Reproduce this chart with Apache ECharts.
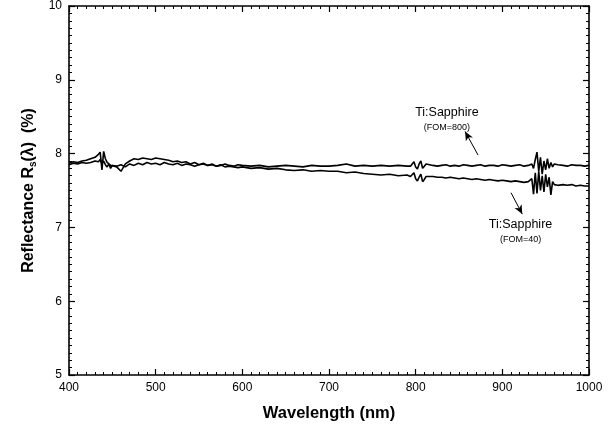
<!DOCTYPE html>
<html>
<head>
<meta charset="utf-8">
<script src="https://cdn.jsdelivr.net/npm/echarts@6/dist/echarts.min.js"></script>
<style>
  html, body { margin: 0; padding: 0; background: #fff; }
  #main { width: 608px; height: 427px; }
</style>
</head>
<body>
<div id="main"></div>
<script>
// wavelength samples (nm), finer where the traces are noisy
var wl = [400, 405, 410, 415, 420, 425, 430,
  432, 434, 436, 438, 440, 442, 444, 446, 448, 450,
  455, 460, 465, 470, 475, 480, 485, 490, 495, 500, 505, 510, 515, 520, 525, 530, 535, 540, 545, 550,
  555, 560, 565, 570, 575, 580, 585, 590, 595, 600,
  610, 620, 630, 640, 650, 660, 670, 680, 690, 700, 710, 720, 730, 740, 750, 760, 770, 780, 790,
  792, 794, 796, 798, 800, 802, 804, 806, 808, 810, 812, 814,
  820, 825, 830, 835, 840, 845, 850, 855, 860, 865, 870, 875, 880, 885, 890, 895, 900, 905, 910, 915, 920, 925, 930,
  932, 934, 936, 938, 940, 942, 944, 946, 948, 950, 952, 954, 956, 958, 960, 962, 964,
  970, 975, 980, 985, 990, 995, 1000];

// Ti:Sapphire (FOM=800)
var r800 = [7.87, 7.89, 7.88, 7.90, 7.91, 7.93, 7.95,
  7.97, 7.99, 8.02, 7.78, 8.03, 7.93, 7.88, 7.86, 7.84, 7.86,
  7.83, 7.85, 7.82, 7.86, 7.84, 7.87, 7.85, 7.88, 7.86, 7.87, 7.85, 7.88, 7.86, 7.85, 7.87, 7.84, 7.86, 7.85, 7.83, 7.85,
  7.86, 7.84, 7.85, 7.83, 7.84, 7.86, 7.84, 7.83, 7.85, 7.84,
  7.83, 7.84, 7.82, 7.83, 7.84, 7.83, 7.82, 7.84, 7.83, 7.83, 7.84, 7.86, 7.83, 7.84, 7.83, 7.84, 7.83, 7.84, 7.83,
  7.84, 7.83, 7.86, 7.89, 7.82, 7.79, 7.86, 7.90, 7.80, 7.83, 7.86, 7.84,
  7.84, 7.83, 7.84, 7.85, 7.83, 7.84, 7.83, 7.85, 7.84, 7.83, 7.84, 7.85, 7.83, 7.84, 7.84, 7.83, 7.85, 7.84, 7.83, 7.84, 7.85, 7.83, 7.84,
  7.84, 7.86, 7.80, 7.92, 8.02, 7.76, 7.95, 7.72, 7.90, 7.78, 7.93, 7.80, 7.88, 7.82, 7.86, 7.84, 7.85,
  7.84, 7.83, 7.85, 7.84, 7.84, 7.83, 7.84];

// Ti:Sapphire (FOM=40)
var r40 = [7.85, 7.87, 7.86, 7.88, 7.87, 7.88, 7.90,
  7.91, 7.89, 7.92, 7.86, 7.90, 7.85, 7.82, 7.86, 7.80, 7.84,
  7.82, 7.76, 7.86, 7.90, 7.93, 7.92, 7.94, 7.93, 7.92, 7.94, 7.93, 7.92, 7.91, 7.89, 7.90, 7.88, 7.89, 7.86, 7.88, 7.85,
  7.87, 7.84, 7.86, 7.83, 7.85, 7.82, 7.83, 7.82, 7.81, 7.82,
  7.80, 7.81, 7.79, 7.80, 7.78, 7.77, 7.78, 7.76, 7.77, 7.76, 7.76, 7.74, 7.75, 7.73, 7.72, 7.71, 7.72, 7.70, 7.71,
  7.70, 7.69, 7.71, 7.74, 7.66, 7.63, 7.68, 7.72, 7.62, 7.65, 7.69, 7.68,
  7.69, 7.68, 7.68, 7.67, 7.68, 7.67, 7.66, 7.67, 7.66, 7.65, 7.66, 7.65, 7.64, 7.65, 7.64, 7.63, 7.64, 7.63, 7.62, 7.63, 7.62, 7.61, 7.62,
  7.61, 7.66, 7.45, 7.74, 7.46, 7.76, 7.50, 7.70, 7.48, 7.72, 7.55, 7.68, 7.44, 7.62, 7.58, 7.60, 7.57,
  7.58, 7.57, 7.58, 7.56, 7.57, 7.56, 7.56];

var xTicks = [400, 500, 600, 700, 800, 900, 1000];
var yTicks = [5, 6, 7, 8, 9, 10];

function pairs(xs, ys) {
  var out = [];
  for (var i = 0; i < xs.length; i++) out.push([xs[i], ys[i]]);
  return out;
}

var FONT = '"Liberation Sans", Arial, sans-serif';
var myChart = echarts.init(document.getElementById('main'));

var tickStyle = { show: true, inside: true, length: 6, lineStyle: { color: '#000', width: 1.2 } };
var minorStyle = { show: true, splitNumber: 10, length: 3, lineStyle: { color: '#000', width: 1 } };
var lineAx = { show: true, onZero: false, lineStyle: { color: '#000', width: 1.6 } };

var option = {
  animation: false,
  backgroundColor: '#fff',
  grid: { left: 69, right: 19, top: 4, bottom: 52 },
  xAxis: [{
    type: 'value',
    min: xTicks[0], max: xTicks[xTicks.length - 1], interval: 100,
    axisLine: lineAx, axisTick: tickStyle, minorTick: minorStyle,
    splitLine: { show: false },
    axisLabel: { color: '#000', fontFamily: FONT, fontSize: 12, margin: 7,
      formatter: function (v) { return String(v); } },
    name: 'Wavelength (nm)', nameLocation: 'middle', nameGap: 30,
    nameTextStyle: { color: '#000', fontFamily: FONT, fontSize: 16.5, fontWeight: 'bold' }
  }, {
    type: 'value', position: 'top',
    min: xTicks[0], max: xTicks[xTicks.length - 1], interval: 100,
    axisLine: lineAx, axisTick: tickStyle, minorTick: minorStyle,
    splitLine: { show: false }, axisLabel: { show: false }
  }],
  yAxis: [{
    type: 'value',
    min: yTicks[0], max: yTicks[yTicks.length - 1], interval: 1,
    axisLine: lineAx, axisTick: tickStyle, minorTick: minorStyle,
    splitLine: { show: false },
    axisLabel: { color: '#000', fontFamily: FONT, fontSize: 12, margin: 7 },
    name: '{a|Reflectance R}{s|s}{a|(λ)  (%)}', nameLocation: 'middle', nameGap: 31, nameRotate: 90,
    nameTextStyle: {
      color: '#000', fontFamily: FONT, fontSize: 16, fontWeight: 'bold',
      rich: {
        a: { fontFamily: FONT, fontSize: 16, fontWeight: 'bold', color: '#000' },
        s: { fontFamily: FONT, fontSize: 10, fontWeight: 'bold', color: '#000', verticalAlign: 'bottom', padding: [9, 0, 0, 0] }
      }
    }
  }, {
    type: 'value', position: 'right',
    min: yTicks[0], max: yTicks[yTicks.length - 1], interval: 1,
    axisLine: lineAx, axisTick: tickStyle, minorTick: minorStyle,
    splitLine: { show: false }, axisLabel: { show: false }
  }],
  series: [{
    name: 'FOM=800',
    type: 'line',
    data: pairs(wl, r800),
    showSymbol: false,
    lineStyle: { color: '#000', width: 1.6 },
    markLine: {
      silent: true, symbol: ['arrow', 'none'], symbolSize: [6, 9],
      lineStyle: { color: '#000', width: 1, type: 'solid' },
      label: { show: false },
      data: [[{ coord: [857, 8.30] }, { coord: [872, 7.98] }]]
    },
    markPoint: {
      silent: true, symbolSize: 0,
      label: { show: true, color: '#000', fontFamily: FONT,
        formatter: '{t|Ti:Sapphire}\n{f|(FOM=800)}',
        rich: { t: { fontSize: 12.5, fontFamily: FONT, color: '#000', lineHeight: 16, align: 'center' },
                f: { fontSize: 9, fontFamily: FONT, color: '#000', lineHeight: 14, align: 'center' } } },
      data: [{ coord: [836, 8.46] }]
    }
  }, {
    name: 'FOM=40',
    type: 'line',
    data: pairs(wl, r40),
    showSymbol: false,
    lineStyle: { color: '#000', width: 1.6 },
    markLine: {
      silent: true, symbol: ['none', 'arrow'], symbolSize: [6, 9],
      lineStyle: { color: '#000', width: 1, type: 'solid' },
      label: { show: false },
      data: [[{ coord: [910, 7.47] }, { coord: [923, 7.18] }]]
    },
    markPoint: {
      silent: true, symbolSize: 0,
      label: { show: true, color: '#000', fontFamily: FONT,
        formatter: '{t|Ti:Sapphire}\n{f|(FOM=40)}',
        rich: { t: { fontSize: 12.5, fontFamily: FONT, color: '#000', lineHeight: 16, align: 'center' },
                f: { fontSize: 9, fontFamily: FONT, color: '#000', lineHeight: 14, align: 'center' } } },
      data: [{ coord: [921, 6.95] }]
    }
  }]
};
myChart.setOption(option);
</script>
</body>
</html>
